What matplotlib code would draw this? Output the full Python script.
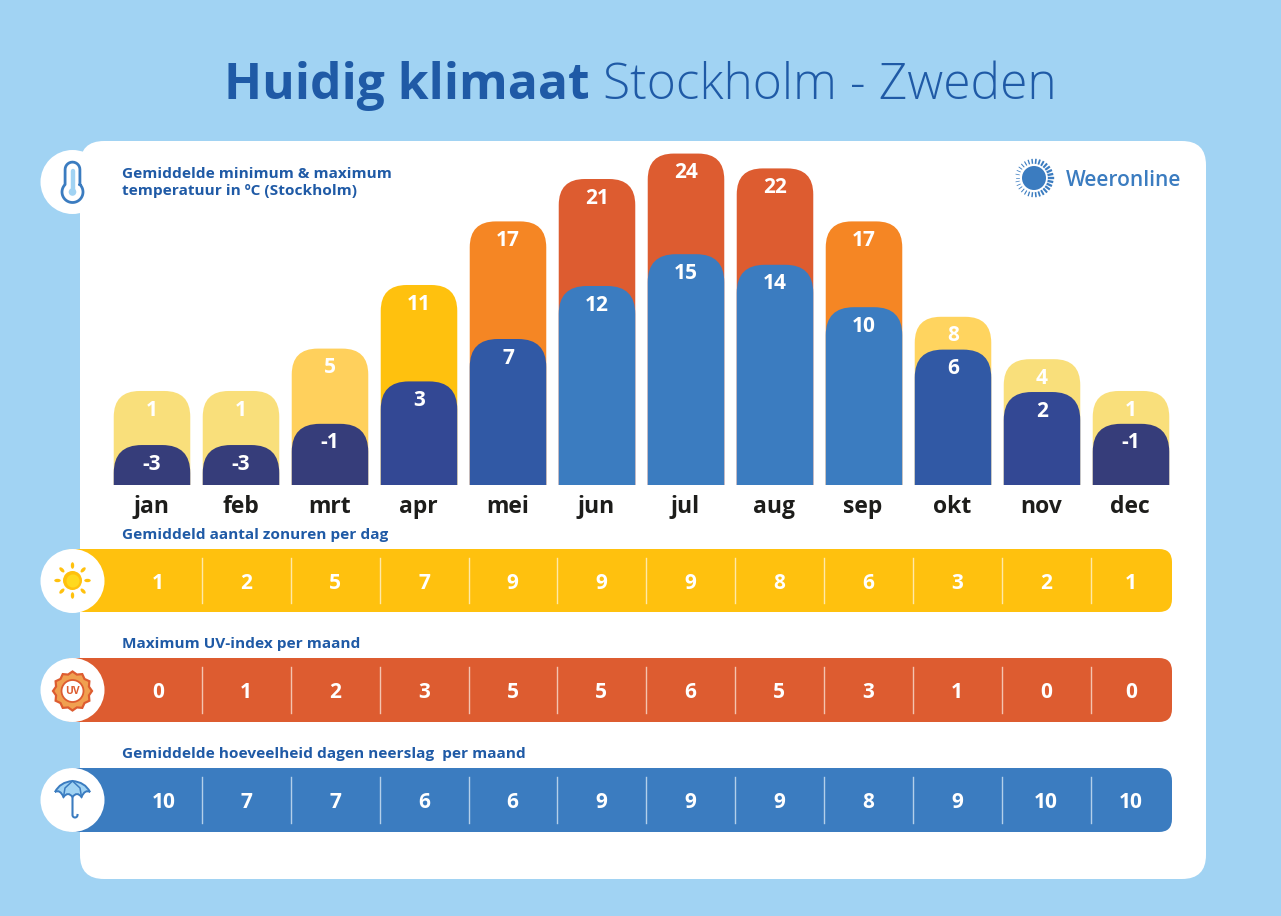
import numpy as np
from matplotlib import pyplot as plt
from matplotlib.patches import Circle, Ellipse, FancyBboxPatch, PathPatch, Polygon, Rectangle
from matplotlib.path import Path

plt.rcParams['font.family'] = ['Open Sans', 'DejaVu Sans']

months = ['jan', 'feb', 'mrt', 'apr', 'mei', 'jun', 'jul', 'aug', 'sep', 'okt', 'nov', 'dec']
tempMax = [1, 1, 5, 11, 17, 21, 24, 22, 17, 8, 4, 1]
tempMin = [-3, -3, -1, 3, 7, 12, 15, 14, 10, 6, 2, -1]
# the jul bar is drawn a bit shorter than its label says in the source
maxHeights = [1, 1, 5, 11, 17, 21, 23.4, 22, 17, 8, 4, 1]
sunHours = [1, 2, 5, 7, 9, 9, 9, 8, 6, 3, 2, 1]
uvIndex = [0, 1, 2, 3, 5, 5, 6, 5, 3, 1, 0, 0]
rainDays = [10, 7, 7, 6, 6, 9, 9, 9, 8, 9, 10, 10]

maxColors = ['#f9df7b', '#f9df7b', '#ffd05c', '#ffc10e', '#f58624', '#dd5c30',
             '#dd5c30', '#dd5c30', '#f58624', '#ffd45f', '#f9df7b', '#f9df7b']
minColors = ['#363d7a', '#363d7a', '#363d7a', '#334894', '#3159a5', '#3b7cc0',
             '#3b7cc0', '#3b7cc0', '#3b7cc0', '#3159a5', '#334894', '#363d7a']

SKY = '#a1d3f3'
TITLEBLUE = '#1f5aa6'
BLUE = '#3b7cc0'
YELLOW = '#ffc10e'
RED = '#dd5c30'
W, H = 1281, 916

fig = plt.figure(figsize=(W / 100, H / 100), dpi=100, facecolor=SKY)

# background layer in pixel coordinates
bg = fig.add_axes([0, 0, 1, 1])
bg.set_xlim(0, W)
bg.set_ylim(H, 0)
bg.axis('off')

bg.add_patch(FancyBboxPatch((80 + 24, 141 + 24), 1126 - 48, 738 - 48,
                            boxstyle='round,pad=24,rounding_size=24', fc='white', ec='none'))

bg.text(224, 86, 'Huidig klimaat', fontsize=35.8, fontweight='bold', color=TITLEBLUE, va='center', ha='left')
bg.text(603, 86, 'Stockholm - Zweden', fontsize=35.8, fontweight='light', color=TITLEBLUE, va='center', ha='left')

labelStyle = dict(fontsize=11.1, fontweight='bold', color=TITLEBLUE, va='center', ha='left')
bg.text(122, 174, 'Gemiddelde minimum & maximum', **labelStyle)
bg.text(122, 191, 'temperatuur in ºC (Stockholm)', **labelStyle)
bg.text(122, 535, 'Gemiddeld aantal zonuren per dag', **labelStyle)
bg.text(122.5, 644, 'Maximum UV-index per maand', **labelStyle)
bg.text(122.5, 754, 'Gemiddelde hoeveelheid dagen neerslag  per maand', **labelStyle)

# strips with monthly values
cellEdges = [115, 202, 291, 380, 469, 557, 646, 735, 824, 913, 1002, 1091, 1172]


def drawStrip(top, bottom, color, values, lineColor):
    bg.add_patch(FancyBboxPatch((60 + 13, top + 13), 1172 - 60 - 26, bottom - top - 26,
                                boxstyle='round,pad=13,rounding_size=13', fc=color, ec='none', zorder=2))
    bg.add_patch(Rectangle((80, top), 40, bottom - top, fc=color, ec='none', zorder=2))
    for x in cellEdges[1:-1]:
        bg.plot([x - 0.5, x - 0.5], [top + 9, bottom - 9], color=lineColor, lw=1, zorder=3)
    for i, v in enumerate(values):
        cx = (cellEdges[i] + cellEdges[i + 1]) / 2 - 0.5
        if v >= 10 and i == 0:
            cx += 6
        bg.text(cx, (top + bottom) / 2 + 3, str(v), color='white', fontsize=15, fontweight='bold',
                ha='center', va='center', zorder=4)


drawStrip(549, 612, YELLOW, sunHours, '#ffe9a8')
drawStrip(658, 722, RED, uvIndex, '#f3c4b0')
drawStrip(768, 832, BLUE, rainDays, '#b4cfe9')

# month labels
for i, m in enumerate(months):
    bg.text(151.5 + 88.95 * i, 507, m, fontsize=16.5, fontweight='bold', color='#1d1d1b',
            ha='center', va='center')

# white circles behind the icons
for cy in [182, 581, 690, 800]:
    bg.add_patch(Circle((72.5, cy), 32, fc='white', ec='none', zorder=5))

# thermometer
t = np.radians(np.linspace(-45, 225, 40))
bulbX = 72.5 + 10.5 * np.cos(t)
bulbY = 192 + 10.5 * np.sin(t)
arc = np.radians(np.linspace(180, 360, 15))
topX = 72.5 + 7.4 * np.cos(arc)
topY = 169.5 + 7.4 * np.sin(arc)
bg.plot(np.r_[bulbX, topX, bulbX[0]], np.r_[bulbY, topY, bulbY[0]], color=BLUE, lw=2, zorder=6)
bg.plot([72.5, 72.5], [171, 192], color=SKY, lw=3.2, zorder=6, solid_capstyle='round')
bg.add_patch(Circle((72.5, 192), 3.8, fc=SKY, ec='none', zorder=6))

# sun
bg.add_patch(Circle((72.5, 580.5), 9.5, fc=YELLOW, ec='none', zorder=6))
bg.add_patch(Circle((73, 581), 6.5, fc='#ffd91f', ec='none', zorder=6))
for a in range(0, 360, 45):
    ra = np.radians(a)
    bg.add_patch(Ellipse((72.5 + 15 * np.cos(ra), 580.5 + 15 * np.sin(ra)), 6.5, 3.4, angle=a,
                         fc=YELLOW, ec='none', zorder=6))

# uv badge
n = 24
ang = np.linspace(0, 2 * np.pi, n, endpoint=False)
rad = np.where(np.arange(n) % 2 == 0, 19.5, 17)
bg.add_patch(Polygon(np.c_[72.5 + rad * np.cos(ang), 691 + rad * np.sin(ang)], closed=True,
                     fc='#f0a050', ec=RED, lw=1.6, zorder=6))
bg.add_patch(Circle((72.5, 691), 11, fc='white', ec=RED, lw=1.3, zorder=7))
bg.text(72.5, 691, 'UV', fontsize=7.5, fontweight='bold', color=RED, ha='center', va='center', zorder=8)

# umbrella
canopy = Path([(55, 792), (60, 782), (72.5, 781), (85, 782), (90, 792),
               (85, 789), (81.5, 797), (77, 791), (72.5, 797), (68, 791), (63.5, 797), (60, 789), (55, 792)],
              [Path.MOVETO, Path.CURVE3, Path.CURVE3, Path.CURVE3, Path.CURVE3,
               Path.CURVE3, Path.CURVE3, Path.CURVE3, Path.CURVE3, Path.CURVE3, Path.CURVE3, Path.CURVE3, Path.CURVE3])
bg.add_patch(PathPatch(canopy, fc=SKY, ec=BLUE, lw=1.4, zorder=6))
bg.plot([72.5, 65, 63.5], [781, 788, 797], color=BLUE, lw=1.1, zorder=7)
bg.plot([72.5, 80, 81.5], [781, 788, 797], color=BLUE, lw=1.1, zorder=7)
hook = np.radians(np.linspace(180, 0, 15))
bg.plot(np.r_[72.5, 72.5, 75 + 2.5 * np.cos(hook)], np.r_[797, 815, 815 + 2.5 * np.sin(hook)],
        color=BLUE, lw=1.5, zorder=6)

# weeronline logo
bg.add_patch(Circle((1034, 178), 12, fc=BLUE, ec='none', zorder=3))
for a in np.arange(0, 360, 12):
    ra = np.radians(a)
    thick = 0.5 + 1.2 * (0.5 + 0.5 * np.cos(ra))
    bg.plot([1034 + 15 * np.cos(ra), 1034 + 18.5 * np.cos(ra)],
            [178 + 15 * np.sin(ra), 178 + 18.5 * np.sin(ra)], color=BLUE, lw=thick, zorder=3)
bg.text(1066, 180, 'Weeronline', fontsize=15, fontweight='semibold', color=BLUE, ha='left', va='center')

# temperature bars: the source has max and min offset by about one degree, so two y axes
axTop, axBottom = 140, 485
axLeft, axRight = 107.5, 1175.5
pos = [axLeft / W, (H - axBottom) / H, (axRight - axLeft) / W, (axBottom - axTop) / H]
axMax = fig.add_axes(pos)
axMax.patch.set_visible(False)
axMax.set_xlim(-0.5, 11.5)
axMax.set_ylim(-7.87, 24.68)
axMax.axis('off')
axMin = fig.add_axes(pos)
axMin.patch.set_visible(False)
axMin.set_xlim(-0.5, 11.5)
axMin.set_ylim(-6.77, 25.77)
axMin.axis('off')


def roundTopBars(ax, heights, labels, colors, radius):
    y0, y1 = ax.get_ylim()
    rx = radius / ((axRight - axLeft) / 12)
    ry = radius / ((axBottom - axTop) / (y1 - y0))
    half = 0.43
    for i, v in enumerate(heights):
        l, r = i - half, i + half
        verts = [(l, y0), (l, v - ry), (l, v), (l + rx, v), (r - rx, v), (r, v), (r, v - ry), (r, y0), (l, y0)]
        codes = [Path.MOVETO, Path.LINETO, Path.CURVE3, Path.CURVE3, Path.LINETO,
                 Path.CURVE3, Path.CURVE3, Path.LINETO, Path.CLOSEPOLY]
        ax.add_patch(PathPatch(Path(verts, codes), fc=colors[i], ec='none'))
        ax.annotate(str(labels[i]), (i, v), xytext=(0, -13.7), textcoords='offset points', color='white',
                    fontsize=15, fontweight='bold', ha='center', va='center')


roundTopBars(axMax, maxHeights, tempMax, maxColors, 26)
roundTopBars(axMin, tempMin, tempMin, minColors, 28)

plt.savefig('out.png', dpi=100, facecolor=SKY)
